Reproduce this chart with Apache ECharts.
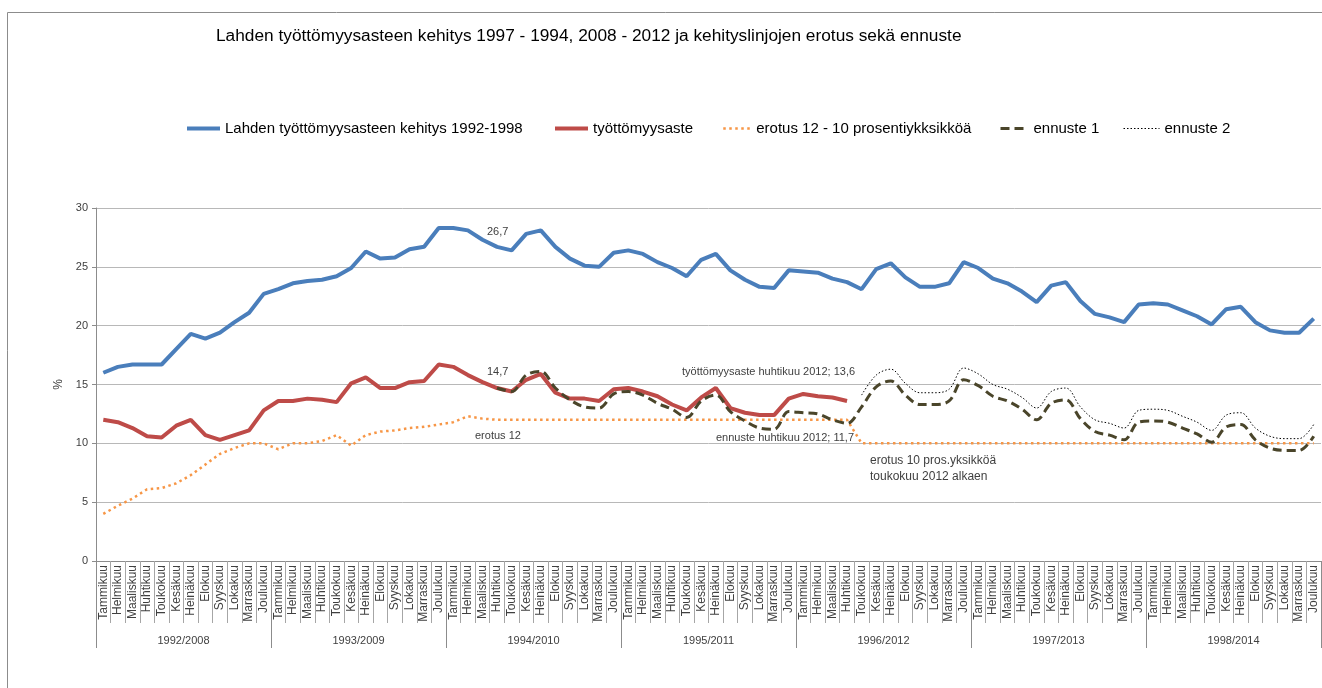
<!DOCTYPE html>
<html>
<head>
<meta charset="utf-8">
<script src="https://cdn.jsdelivr.net/npm/echarts@6/dist/echarts.min.js"></script>
<style>
html,body{margin:0;padding:0;background:#fff;}
#chart{width:1322px;height:688px;}
</style>
</head>
<body>
<div id="chart"></div>
<script>
// ---- data ----
const monthNames = ['Tammikuu','Helmikuu','Maaliskuu','Huhtikuu','Toukokuu','Kesäkuu','Heinäkuu','Elokuu','Syyskuu','Lokakuu','Marraskuu','Joulukuu'];
const yearLabels = ['1992/2008','1993/2009','1994/2010','1995/2011','1996/2012','1997/2013','1998/2014'];
const yTicks = [0,5,10,15,20,25,30];

const seriesNames = ['Lahden työttömyysasteen kehitys 1992-1998','työttömyysaste','erotus 12 - 10 prosentiykksikköä','ennuste 1','ennuste 2'];

const lahti9298 = [
  16.0,16.5,16.7,16.7,16.7,18.0,19.3,18.9,19.4,20.3,21.1,22.7,
  23.1,23.6,23.8,23.9,24.2,24.9,26.3,25.7,25.8,26.5,26.7,28.3,
  28.3,28.1,27.3,26.7,26.4,27.8,28.1,26.7,25.7,25.1,25.0,26.2,
  26.4,26.1,25.4,24.9,24.2,25.6,26.1,24.7,23.9,23.3,23.2,24.7,
  24.6,24.5,24.0,23.7,23.1,24.8,25.3,24.1,23.3,23.3,23.6,25.4,
  24.9,24.0,23.6,22.9,22.0,23.4,23.7,22.1,21.0,20.7,20.3,21.8,
  21.9,21.8,21.3,20.8,20.1,21.4,21.6,20.3,19.6,19.4,19.4,20.6
];
const tyottomyysaste = [
  12.0,11.8,11.3,10.6,10.5,11.5,12.0,10.7,10.3,10.7,11.1,12.8,
  13.6,13.6,13.8,13.7,13.5,15.1,15.6,14.7,14.7,15.2,15.3,16.7,
  16.5,15.8,15.2,14.7,14.4,15.4,15.9,14.3,13.8,13.8,13.6,14.6,
  14.7,14.4,14.0,13.3,12.8,13.9,14.7,13.0,12.6,12.4,12.4,13.8,
  14.2,14.0,13.9,13.6
];
const erotus = [
  4.0,4.7,5.3,6.1,6.2,6.6,7.3,8.2,9.1,9.6,10.0,10.0,
  9.5,10.0,10.0,10.2,10.7,9.8,10.7,11.0,11.1,11.3,11.4,11.6,
  11.8,12.3,12.1,12,12,12,12,12,12,12,12,12,
  12,12,12,12,12,12,12,12,12,12,12,12,
  12,12,12,12,10,10,10,10,10,10,10,10,
  10,10,10,10,10,10,10,10,10,10,10,10,
  10,10,10,10,10,10,10,10,10,10,10,10
];
const ennuste1 = [
  null,null,null,null,null,null,null,null,null,null,null,null,
  null,null,null,null,null,null,null,null,null,null,null,null,
  null,null,null,14.7,14.4,15.8,16.1,14.7,13.7,13.1,13.0,14.2,
  14.4,14.1,13.4,12.9,12.2,13.6,14.1,12.7,11.9,11.3,11.2,12.7,
  12.6,12.5,12.0,11.7,13.1,14.8,15.3,14.1,13.3,13.3,13.6,15.4,
  14.9,14.0,13.6,12.9,12.0,13.4,13.7,12.1,11.0,10.7,10.3,11.8,
  11.9,11.8,11.3,10.8,10.1,11.4,11.6,10.3,9.6,9.4,9.4,10.6
];
const ennuste2 = [
  null,null,null,null,null,null,null,null,null,null,null,null,
  null,null,null,null,null,null,null,null,null,null,null,null,
  null,null,null,null,null,null,null,null,null,null,null,null,
  null,null,null,null,null,null,null,null,null,null,null,null,
  null,null,null,null,14.1,15.8,16.3,15.1,14.3,14.3,14.6,16.4,
  15.9,15.0,14.6,13.9,13.0,14.4,14.7,13.1,12.0,11.7,11.3,12.8,
  12.9,12.8,12.3,11.8,11.1,12.4,12.6,11.3,10.6,10.4,10.4,11.6
];

// ---- build ----
const categories = [];
yearLabels.forEach(() => monthNames.forEach(m => categories.push(m)));

const FONT = "'Liberation Sans', Arial, sans-serif";
const TXT = '#404040';

const chart = echarts.init(document.getElementById('chart'), null, {renderer:'canvas'});

function legendItem(name, left, width) {
  return {
    data: [name], left: left, top: 121, padding: 0, itemWidth: width, itemHeight: 14,
    itemStyle: {opacity: 0},
    lineStyle: {width: 'inherit'},
    textStyle: {fontFamily: FONT, fontSize: 15, color: '#000'},
    selectedMode: false
  };
}

const option = {
  animation: false,
  backgroundColor: '#fff',
  title: {
    text: 'Lahden työttömyysasteen kehitys 1997 - 1994, 2008 - 2012 ja kehityslinjojen erotus sekä ennuste',
    left: 216, top: 28, padding: 0,
    textStyle: {fontFamily: FONT, fontSize: 17.3, fontWeight: 'normal', color: '#000'}
  },
  legend: [
    legendItem(seriesNames[0], 185, 33),
    legendItem(seriesNames[1], 553, 33),
    legendItem(seriesNames[2], 722, 28),
    legendItem(seriesNames[3], 999, 28),
    legendItem(seriesNames[4], 1123, 36)
  ],
  grid: {left: 96, right: 1, top: 208, bottom: 127, containLabel: false},
  xAxis: [
    {
      type: 'category', data: categories, boundaryGap: true, position: 'bottom',
      axisLine: {show: true, lineStyle: {color: '#8c8c8c', width: 1}},
      axisTick: {show: true, interval: 0, length: 62, lineStyle: {color: '#a6a6a6'}},
      axisLabel: {interval: 0, rotate: 90, fontSize: 12, fontFamily: FONT, color: TXT, margin: 4},
      splitLine: {show: false}
    },
    {
      type: 'category', data: yearLabels, boundaryGap: true, position: 'bottom',
      axisLine: {show: false},
      axisTick: {show: true, interval: 0, length: 87, lineStyle: {color: '#8c8c8c'}},
      axisLabel: {interval: 0, fontSize: 11, fontFamily: FONT, color: TXT, margin: 74},
      splitLine: {show: false}
    }
  ],
  yAxis: {
    type: 'value', min: yTicks[0], max: yTicks[yTicks.length-1], interval: 5,
    name: '%', nameLocation: 'middle', nameGap: 27, nameRotate: 90,
    nameTextStyle: {fontFamily: FONT, fontSize: 12, color: TXT},
    axisLine: {show: true, lineStyle: {color: '#8c8c8c'}},
    axisTick: {show: true, length: 4, lineStyle: {color: '#8c8c8c'}},
    axisLabel: {fontFamily: FONT, fontSize: 11, color: TXT, margin: 8},
    splitLine: {show: true, lineStyle: {color: '#b8b8b8', width: 1}}
  },
  series: [
    {name: seriesNames[0], type: 'line', data: lahti9298, symbol: 'none',
     lineStyle: {color: '#4a7ebb', width: 4}, itemStyle: {color: '#4a7ebb'}, z: 2},
    {name: seriesNames[1], type: 'line', data: tyottomyysaste, symbol: 'none',
     lineStyle: {color: '#be4b48', width: 4}, itemStyle: {color: '#be4b48'}, z: 3},
    {name: seriesNames[2], type: 'line', data: erotus, symbol: 'none',
     lineStyle: {color: '#f79646', width: 2.5, type: [2.5, 3.5]}, itemStyle: {color: '#f79646'}, z: 4},
    {name: seriesNames[3], type: 'line', data: ennuste1, symbol: 'none', smooth: 0.35,
     lineStyle: {color: '#4a452a', width: 3, type: [9, 5]}, itemStyle: {color: '#4a452a'}, z: 5},
    {name: seriesNames[4], type: 'line', data: ennuste2, symbol: 'none', smooth: 0.35,
     lineStyle: {color: '#000', width: 1, type: [1.5, 2]}, itemStyle: {color: '#000'}, z: 6}
  ],
  graphic: [
    {type: 'rect', shape: {x: 7.5, y: 12.5, width: 1400, height: 800},
     style: {fill: 'none', stroke: '#8c8c8c', lineWidth: 1}, silent: true, z: -10},
    {type: 'text', x: 487, y: 226, style: {text: '26,7', font: '11px ' + FONT, fill: TXT}},
    {type: 'text', x: 487, y: 366, style: {text: '14,7', font: '11px ' + FONT, fill: TXT}},
    {type: 'text', x: 682, y: 366, style: {text: 'työttömyysaste huhtikuu 2012; 13,6', font: '11px ' + FONT, fill: TXT}},
    {type: 'text', x: 716, y: 432, style: {text: 'ennuste huhtikuu 2012; 11,7', font: '11px ' + FONT, fill: TXT}},
    {type: 'text', x: 475, y: 430, style: {text: 'erotus 12', font: '11px ' + FONT, fill: TXT}},
    {type: 'text', x: 870, y: 455, style: {text: 'erotus 10 pros.yksikköä', font: '12px ' + FONT, fill: TXT}},
    {type: 'text', x: 870, y: 471, style: {text: 'toukokuu 2012 alkaen', font: '12px ' + FONT, fill: TXT}}
  ]
};
chart.setOption(option);
</script>
</body>
</html>
